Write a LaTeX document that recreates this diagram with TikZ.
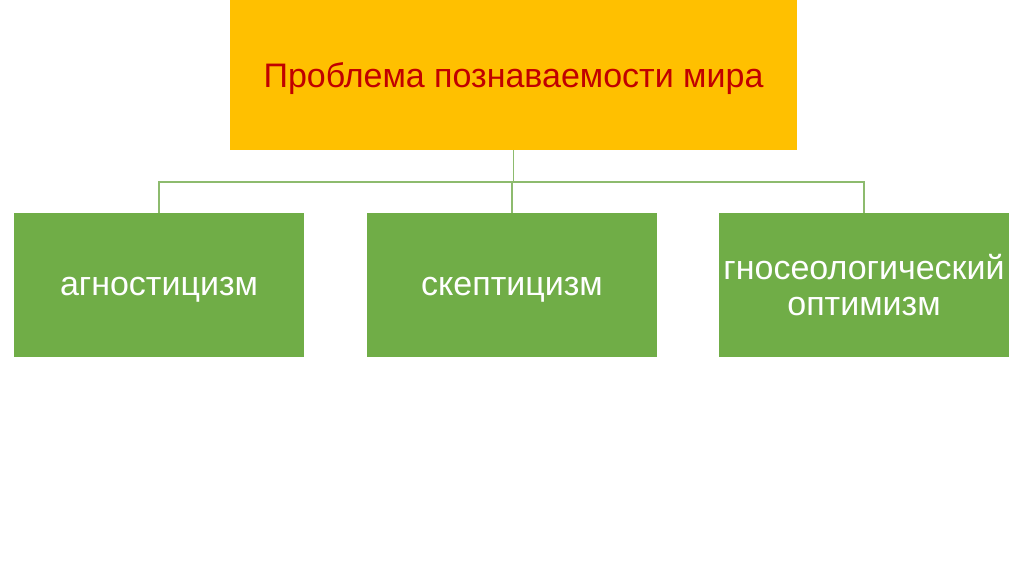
\documentclass[tikz,border=0pt]{standalone}
\usepackage{fontspec}
\setmainfont{Liberation Sans}
\definecolor{topfill}{HTML}{FFC000}
\definecolor{toptext}{HTML}{C00000}
\definecolor{greenfill}{HTML}{70AD47}
\definecolor{linegreen}{HTML}{8DBB6E}
\begin{document}
\begin{tikzpicture}[x=1pt,y=-1pt,
  topbox/.style={fill=topfill,draw=none,minimum width=567pt,minimum height=150pt,inner sep=0pt,text=toptext,font=\fontsize{34}{40}\selectfont,text height=31pt,text depth=7pt},
  leafbox/.style={fill=greenfill,draw=none,minimum width=290pt,minimum height=144pt,inner sep=0pt,text=white,align=center,font=\fontsize{34}{36}\selectfont},
  oneline/.style={text height=26pt,text depth=5pt},
  conn/.style={draw=linegreen,line width=1.2pt}]
\useasboundingbox (0,0) rectangle (1024,574);
\fill[white] (0,0) rectangle (1024,574);
\node[topbox] (top) at (513.5,75) {Проблема познаваемости мира};
\node[leafbox,oneline] (a) at (159,285) {агностицизм};
\node[leafbox,oneline] (b) at (512,285) {скептицизм};
\node[leafbox] (c) at (864,285) {гносеологический\\оптимизм};
\coordinate (j) at (513.5,182);
\draw[conn] (top.south) -- (j);
\draw[conn] (a.north) -- (a.north |- j) -- (c.north |- j) -- (c.north);
\draw[conn] (b.north) -- (b.north |- j);
\end{tikzpicture}
\end{document}
